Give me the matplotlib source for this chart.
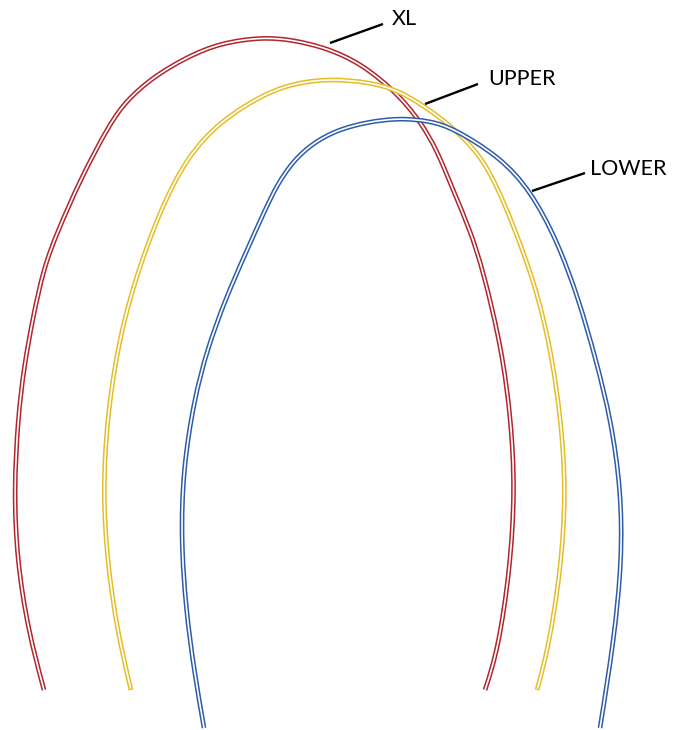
import matplotlib
matplotlib.use("Agg")
import matplotlib.pyplot as plt
from matplotlib.path import Path
from matplotlib.patches import PathPatch

# Arch outlines (pixel-space coordinates, y downward)
xl_x = [44, 28, 17, 14, 18, 24, 33, 44, 57, 80, 110, 127, 153, 187, 220, 263, 293, 327, 362, 397, 420, 437, 453, 470, 483, 502, 511, 515, 510, 498, 485]
xl_y = [690, 630, 560, 490, 417, 367, 317, 267, 233, 180, 123, 100, 77, 57, 43, 37, 40, 48, 64, 93, 121, 150, 190, 230, 270, 350, 420, 490, 570, 650, 690]

upper_x = [131, 117, 107, 103, 107, 117, 133, 160, 187, 220, 267, 300, 333, 367, 400, 440, 463, 483, 497, 510, 535, 551, 561, 566, 561, 548, 537]
upper_y = [690, 630, 560, 490, 420, 350, 285, 210, 157, 121, 92, 82, 79, 82, 90, 117, 137, 160, 187, 217, 283, 350, 420, 490, 570, 650, 690]

lower_x = [204, 194, 186, 181, 183, 194, 207, 225, 247, 265, 277, 293, 313, 337, 367, 400, 430, 453, 500, 530, 557, 579, 596, 611, 621, 622, 614, 600]
lower_y = [728, 670, 610, 540, 470, 400, 350, 300, 250, 210, 185, 161, 143, 130, 122, 118, 121, 128, 157, 190, 240, 300, 360, 420, 490, 560, 640, 728]

series_names = ["XL", "UPPER", "LOWER"]
series_colors = ["#B0262C", "#E5BE27", "#2D5DAA"]
series_closed_ends = [False, True, False]

# Leader lines: (x0, y0) on curve -> (x1, y1) near label
leader_x0 = [330, 425, 532]
leader_y0 = [43, 104, 191]
leader_x1 = [383, 478, 585]
leader_y1 = [24, 84, 173]
label_x = [392, 488, 590]
label_y = [19, 79, 169]

fig = plt.figure(figsize=(6.89, 7.30), dpi=100)
ax = fig.add_axes([0, 0, 1, 1])
ax.set_xlim(0, 689)
ax.set_ylim(730, 0)
ax.axis("off")


def bspline_path(pts):
    """Clamped uniform cubic B-spline with the read points as control points."""
    P = [pts[0], pts[0]] + list(pts) + [pts[-1], pts[-1]]
    verts, codes = [], []
    for i in range(len(P) - 3):
        p0, p1, p2, p3 = P[i], P[i + 1], P[i + 2], P[i + 3]
        b0 = ((p0[0] + 4 * p1[0] + p2[0]) / 6, (p0[1] + 4 * p1[1] + p2[1]) / 6)
        b1 = ((2 * p1[0] + p2[0]) / 3, (2 * p1[1] + p2[1]) / 3)
        b2 = ((p1[0] + 2 * p2[0]) / 3, (p1[1] + 2 * p2[1]) / 3)
        b3 = ((p1[0] + 4 * p2[0] + p3[0]) / 6, (p1[1] + 4 * p2[1] + p3[1]) / 6)
        if i == 0:
            verts.append(b0)
            codes.append(Path.MOVETO)
        verts += [b1, b2, b3]
        codes += [Path.CURVE4] * 3
    return Path(verts, codes)


def trimmed(pts, amt):
    def move(a, b):
        dx, dy = b[0] - a[0], b[1] - a[1]
        dd = (dx * dx + dy * dy) ** 0.5
        return (a[0] + dx * amt / dd, a[1] + dy * amt / dd)
    return [move(pts[0], pts[1])] + pts[1:-1] + [move(pts[-1], pts[-2])]


curves = [(xl_x, xl_y), (upper_x, upper_y), (lower_x, lower_y)]
for (xs, ys), col, closed in zip(curves, series_colors, series_closed_ends):
    pts = list(zip(xs, ys))
    ax.add_patch(PathPatch(bspline_path(pts), facecolor="none", edgecolor=col, lw=3.4, capstyle="butt"))
    inner = trimmed(pts, 1.5) if closed else pts
    ax.add_patch(PathPatch(bspline_path(inner), facecolor="none", edgecolor="white", lw=1.2, capstyle="butt"))

for i, name in enumerate(series_names):
    ax.plot([leader_x0[i], leader_x1[i]], [leader_y0[i], leader_y1[i]],
            color="black", lw=1.7, solid_capstyle="butt")
    ax.text(label_x[i], label_y[i], name, fontsize=15.5, family="Lato",
            ha="left", va="center", color="black")

fig.savefig("out.png", dpi=100, facecolor="white")
